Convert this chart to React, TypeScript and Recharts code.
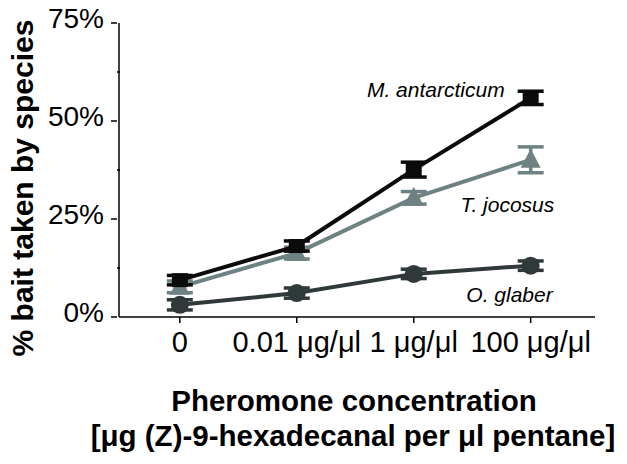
import React from 'react';
import { LineChart, Line, XAxis, YAxis, ErrorBar, ReferenceDot } from 'recharts';

const categories = ['0', '0.01 μg/μl', '1 μg/μl', '100 μg/μl'];
const mAntarcticum = [9.4, 18.1, 37.6, 55.9];
const mAntarcticumErr = [1.2, 1.3, 1.9, 1.7];
const tJocosus = [7.7, 16.3, 30.4, 40.1];
const tJocosusErr = [1.5, 1.5, 1.6, 3.3];
const oGlaber = [3.1, 6.1, 11.0, 13.1];
const oGlaberErr = [1.3, 1.3, 1.2, 1.2];
const yTicks = [0, 12.5, 25, 37.5, 50, 62.5, 75];
const seriesLabels = [
  { name: 'M. antarcticum', x: 1.6, y: 56.1 },
  { name: 'T. jocosus', x: 2.4, y: 26.8 },
  { name: 'O. glaber', x: 2.45, y: 3.8 },
];

const data = categories.map((c, i) => ({
  idx: i,
  cat: c,
  m: mAntarcticum[i],
  mErr: mAntarcticumErr[i],
  t: tJocosus[i],
  tErr: tJocosusErr[i],
  o: oGlaber[i],
  oErr: oGlaberErr[i],
}));

const BLACK = '#0b0b0b';
const GRAY = '#6f8283';
const DARK = '#2f393a';
const FONT = '"Liberation Sans", Arial, sans-serif';

const SquareDot = (p: any) => {
  const { cx, cy } = p;
  if (cx == null || cy == null) return null;
  return <rect key={p.index} x={cx - 8} y={cy - 7} width={16} height={14} fill={BLACK} />;
};
const TriDot = (p: any) => {
  const { cx, cy } = p;
  if (cx == null || cy == null) return null;
  return <polygon key={p.index} points={`${cx},${cy - 11} ${cx + 10},${cy + 8} ${cx - 10},${cy + 8}`} fill={GRAY} />;
};
const CircDot = (p: any) => {
  const { cx, cy } = p;
  if (cx == null || cy == null) return null;
  return <circle key={p.index} cx={cx} cy={cy} r={9} fill={DARK} />;
};

const YTick = (p: any) => {
  const { x, y, payload } = p;
  const v = payload.value;
  const major = v % 25 === 0;
  const ax = x + 6;
  return (
    <g>
      {major ? (
        <line x1={ax - 6} x2={ax} y1={y} y2={y} stroke="#000" strokeWidth={1.5} />
      ) : (
        <line x1={ax} x2={ax + 3} y1={y} y2={y} stroke="#000" strokeWidth={1.5} />
      )}
      {major && (
        <text x={ax - 13} y={y - 5} dy="0.35em" textAnchor="end" fontSize={28} fontFamily={FONT} fill="#000">
          {`${v}%`}
        </text>
      )}
    </g>
  );
};

const XTick = (p: any) => {
  const { x, y, payload } = p;
  return (
    <text x={x} y={y + 27} textAnchor="middle" fontSize={29} fontFamily={FONT} fill="#000">
      {categories[payload.value]}
    </text>
  );
};

const makeLabelShape = (name: string) => (p: any) => {
  const { cx, cy } = p;
  if (cx == null || cy == null) return null;
  return (
    <text x={cx} y={cy} fontSize={21} fontStyle="italic" fontFamily={FONT} fill="#000">
      {name}
    </text>
  );
};

export default function App() {
  return (
    <div style={{ position: 'absolute', left: 0, top: 0, width: 627, height: 464, background: '#fff' }}>
      <LineChart width={627} height={464} data={data} margin={{ top: 23, right: 32, left: 0, bottom: 87 }}>
        <XAxis
          dataKey="idx"
          type="number"
          domain={[-0.52, 3.55]}
          ticks={[0, 1, 2, 3]}
          tick={<XTick />}
          tickSize={6}
          tickLine={{ stroke: '#000', strokeWidth: 1.5 }}
          axisLine={{ stroke: '#000', strokeWidth: 1.5 }}
          height={60}
          interval={0}
        />
        <YAxis
          type="number"
          domain={[0, 75]}
          ticks={yTicks}
          tick={<YTick />}
          tickLine={false}
          tickSize={6}
          axisLine={{ stroke: '#000', strokeWidth: 1.5 }}
          width={119}
          interval={0}
        />
        <Line dataKey="o" stroke={DARK} strokeWidth={4} dot={<CircDot />} isAnimationActive={false}>
          <ErrorBar dataKey="oErr" width={13} stroke={DARK} strokeWidth={3.5} direction="y" />
        </Line>
        <Line dataKey="t" stroke={GRAY} strokeWidth={4} dot={<TriDot />} isAnimationActive={false}>
          <ErrorBar dataKey="tErr" width={13} stroke={GRAY} strokeWidth={3.5} direction="y" />
        </Line>
        <Line dataKey="m" stroke={BLACK} strokeWidth={4} dot={<SquareDot />} isAnimationActive={false}>
          <ErrorBar dataKey="mErr" width={13} stroke={BLACK} strokeWidth={3.5} direction="y" />
        </Line>
        {seriesLabels.map((l) => (
          <ReferenceDot key={l.name} x={l.x} y={l.y} r={0} ifOverflow="visible" shape={makeLabelShape(l.name)} />
        ))}
        <text x={22} y={188} transform="rotate(-90 22 188)" textAnchor="middle" dominantBaseline="central" fontSize={30} fontWeight="bold" fontFamily={FONT} fill="#000">
          % bait taken by species
        </text>
        <text x={354} y={411} textAnchor="middle" fontSize={29.5} fontWeight="bold" fontFamily={FONT} fill="#000">
          Pheromone concentration
        </text>
        <text x={353} y={446} textAnchor="middle" fontSize={29.5} fontWeight="bold" fontFamily={FONT} fill="#000">
          [μg (Z)-9-hexadecanal per μl pentane]
        </text>
      </LineChart>
    </div>
  );
}
